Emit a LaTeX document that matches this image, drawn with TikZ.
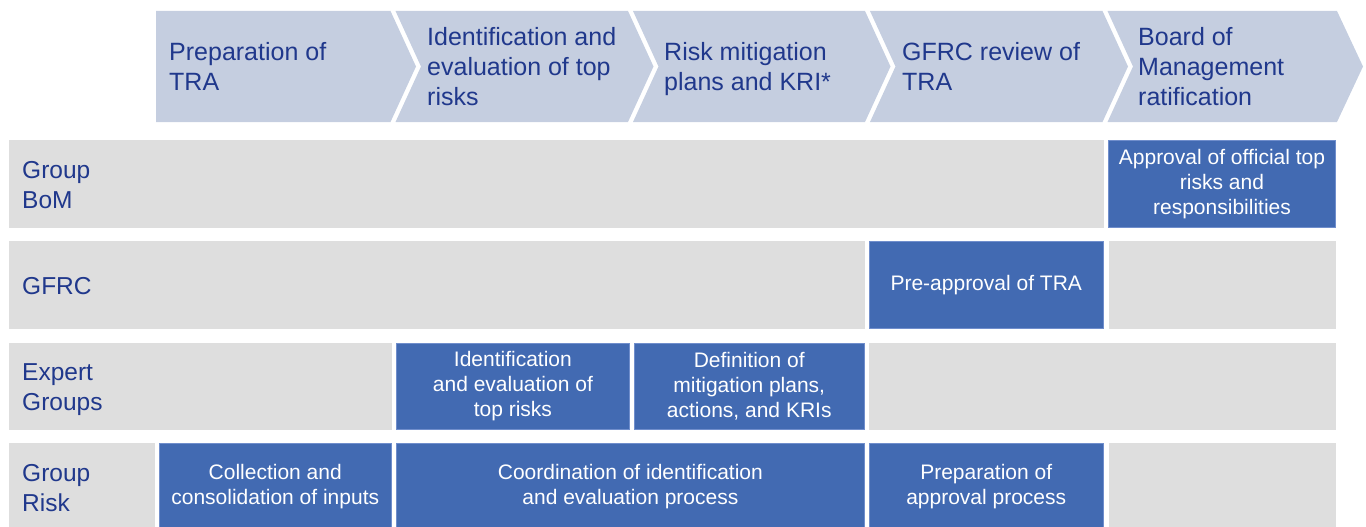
\documentclass[tikz,border=0pt]{standalone}
\usepackage{fontspec}
\setmainfont{Liberation Sans}
\definecolor{chevfill}{RGB}{197,206,224}
\definecolor{cellgray}{RGB}{222,222,222}
\definecolor{cellblue}{RGB}{66,106,178}
\definecolor{cellborder}{RGB}{112,142,204}
\definecolor{navy}{RGB}{32,56,140}
\tikzset{
  chev/.style={fill=chevfill, draw=none},
  chevtext/.style={anchor=west, align=left, inner sep=0pt, text=navy, font=\fontsize{25}{30}\selectfont},
  rowlabel/.style={anchor=west, align=left, inner sep=0pt, text=navy, font=\fontsize{24.5}{30}\selectfont},
  graycell/.style={fill=cellgray, draw=none, inner sep=0pt, outer sep=0pt},
  bluecell/.style={fill=cellblue, draw=cellborder, line width=0.8pt, inner sep=0pt, outer sep=0pt,
    text=white, align=center, font=\fontsize{21}{25}\selectfont},
}
\begin{document}
\begin{tikzpicture}[x=1pt,y=-1pt]
\useasboundingbox (0,0) rectangle (1366,527);
\clip (0,0) rectangle (1366,527);
% chevrons
\fill[chev] (156,11) -- (390.5,11) -- (416,66.5) -- (390.5,122) -- (156,122) -- cycle;
\fill[chev] (395.5,11) -- (628,11) -- (653.5,66.5) -- (628,122) -- (395.5,122) -- (421,66.5) -- cycle;
\fill[chev] (633,11) -- (865,11) -- (890.5,66.5) -- (865,122) -- (633,122) -- (658.5,66.5) -- cycle;
\fill[chev] (870,11) -- (1102.5,11) -- (1128,66.5) -- (1102.5,122) -- (870,122) -- (895.5,66.5) -- cycle;
\fill[chev] (1107.5,11) -- (1337,11) -- (1363,66.5) -- (1337,122) -- (1107.5,122) -- (1133,66.5) -- cycle;
\node[chevtext] (h1) at (169,69) {\strut Preparation of\\TRA\strut};
\node[chevtext] (h2) at (427,69) {\strut Identification and\\evaluation of top\\risks\strut};
\node[chevtext] (h3) at (664,69) {\strut Risk mitigation\\plans and KRI*\strut};
\node[chevtext] (h4) at (902,69) {\strut GFRC review of\\TRA\strut};
\node[chevtext] (h5) at (1138,69) {\strut Board of\\Management\\ratification\strut};
% row 1: Group BoM (y 140--227.5)
\node[graycell, minimum width=1094.5pt, minimum height=87.5pt] (r1g) at (556.25,183.75) {};
\node[bluecell, minimum width=227pt, minimum height=87.5pt] (r1b) at (1222,183.75) {Approval of official top\\risks and\\responsibilities};
\node[rowlabel] (l1) at (22,187.25) {\strut Group\\BoM\strut};
% row 2: GFRC (y 241--328.5)
\node[graycell, minimum width=855.5pt, minimum height=87.5pt] (r2g) at (436.75,284.75) {};
\node[bluecell, minimum width=234.5pt, minimum height=87.5pt] (r2b) at (986.25,284.75) {Pre-approval of TRA};
\node[graycell, minimum width=227pt, minimum height=87.5pt] (r2g2) at (1222,284.75) {};
\node[rowlabel] (l2) at (22,288.25) {\strut GFRC};
% row 3: Expert Groups (y 343--429.5)
\node[graycell, minimum width=382.7pt, minimum height=86.5pt] (r3g) at (200.35,386.25) {};
\node[bluecell, minimum width=233.2pt, minimum height=86.5pt] (r3b1) at (512.9,386.25) {Identification\\and evaluation of\\top risks};
\node[bluecell, minimum width=230.5pt, minimum height=86.5pt] (r3b2) at (749.25,386.25) {Definition of\\mitigation plans,\\actions, and KRIs};
\node[graycell, minimum width=466.5pt, minimum height=86.5pt] (r3g2) at (1102.25,386.25) {};
\node[rowlabel] (l3) at (22,389.75) {\strut Expert\\Groups\strut};
% row 4: Group Risk (y 443--530)
\node[graycell, minimum width=145.5pt, minimum height=87pt] (r4g) at (81.75,486.5) {};
\node[bluecell, minimum width=232.5pt, minimum height=87pt] (r4b1) at (275.25,486.5) {Collection and\\consolidation of inputs};
\node[bluecell, minimum width=468.2pt, minimum height=87pt] (r4b2) at (630.4,486.5) {Coordination of identification\\and evaluation process};
\node[bluecell, minimum width=234.5pt, minimum height=87pt] (r4b3) at (986.25,486.5) {Preparation of\\approval process};
\node[graycell, minimum width=227pt, minimum height=87pt] (r4g2) at (1222,486.5) {};
\node[rowlabel] (l4) at (22,490.25) {\strut Group\\Risk\strut};
\end{tikzpicture}
\end{document}
